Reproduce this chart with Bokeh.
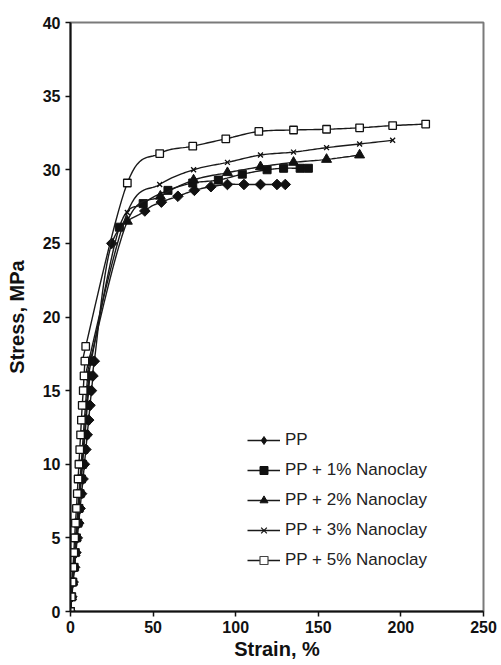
import numpy as np
from bokeh.plotting import figure
from bokeh.models import Legend, LegendItem, Range1d
from bokeh.embed import file_html
from bokeh.resources import INLINE

# ---------------- data ----------------
x_ticks = [0, 50, 100, 150, 200, 250]
y_ticks = [0, 5, 10, 15, 20, 25, 30, 35, 40]

pp_strain = [0, 0.8, 1.6, 2.5, 3.3, 4.1, 5.0, 5.8, 6.7, 7.6, 8.4, 9.3, 10.1, 11.0, 11.8, 12.7, 13.6, 14.4,
             25, 45, 55, 65, 75, 85, 95, 105, 115, 125, 130]
pp_stress = [0, 1, 2, 3, 4, 5, 6, 7, 8, 9, 10, 11, 12, 13, 14, 15, 16, 17,
             25.0, 27.2, 27.8, 28.2, 28.6, 28.85, 29.0, 29.0, 29.0, 29.0, 29.0]

nc1_strain = [0, 0.7, 1.4, 2.2, 2.9, 3.6, 4.4, 5.1, 5.8, 6.6, 7.3, 8.0, 8.8, 9.5, 10.2, 11.0, 11.7, 12.5,
              29.6, 44, 59, 74, 89.5, 104, 119, 129, 139, 144]
nc1_stress = [0, 1, 2, 3, 4, 5, 6, 7, 8, 9, 10, 11, 12, 13, 14, 15, 16, 17,
              26.1, 27.7, 28.6, 29.1, 29.3, 29.7, 30.0, 30.1, 30.1, 30.1]

nc2_strain = [0, 0.7, 1.4, 2.1, 2.8, 3.5, 4.2, 4.9, 5.6, 6.3, 7.0, 7.7, 8.4, 9.1, 9.8, 10.5, 11.2, 11.9,
              34.4, 54.4, 74.5, 95, 115, 135, 155, 175]
nc2_stress = [0, 1, 2, 3, 4, 5, 6, 7, 8, 9, 10, 11, 12, 13, 14, 15, 16, 17,
              26.5, 28.2, 29.3, 29.8, 30.2, 30.5, 30.7, 31.0]

nc3_strain = [0, 0.6, 1.3, 1.9, 2.6, 3.2, 3.9, 4.5, 5.2, 5.8, 6.5, 7.1, 7.8, 8.4, 9.1, 9.7, 10.4, 11.0,
              34.4, 54, 74.5, 95, 115, 135, 155, 175, 195]
nc3_stress = [0, 1, 2, 3, 4, 5, 6, 7, 8, 9, 10, 11, 12, 13, 14, 15, 16, 17,
              27.1, 29.0, 30.0, 30.5, 31.0, 31.2, 31.5, 31.75, 32.0]

nc5_strain = [0, 0.5, 1.0, 1.5, 2.0, 2.5, 3.0, 3.6, 4.1, 4.6, 5.1, 5.6, 6.1, 6.6, 7.1, 7.7, 8.2, 8.7, 9.2,
              34.4, 54, 74, 94, 114, 135, 155, 175, 195, 215]
nc5_stress = [0, 1, 2, 3, 4, 5, 6, 7, 8, 9, 10, 11, 12, 13, 14, 15, 16, 17, 18,
              29.1, 31.1, 31.6, 32.1, 32.6, 32.7, 32.75, 32.85, 33.0, 33.1]

labels = ["PP", "PP + 1% Nanoclay", "PP + 2% Nanoclay", "PP + 3% Nanoclay", "PP + 5% Nanoclay"]


def smooth(xs, ys, n=14):
    """Catmull-Rom curve through the data points (like a spreadsheet 'smoothed line')."""
    pts = np.column_stack([np.asarray(xs, float), np.asarray(ys, float)])
    out = []
    m = len(pts)
    for i in range(m - 1):
        p0 = pts[i - 1] if i > 0 else pts[i]
        p1 = pts[i]
        p2 = pts[i + 1]
        p3 = pts[i + 2] if i + 2 < m else pts[i + 1]
        for t in np.linspace(0, 1, n, endpoint=False):
            t2, t3 = t * t, t * t * t
            pt = 0.5 * ((2 * p1) + (-p0 + p2) * t + (2 * p0 - 5 * p1 + 4 * p2 - p3) * t2
                        + (-p0 + 3 * p1 - 3 * p2 + p3) * t3)
            out.append(pt)
    out.append(pts[-1])
    out = np.array(out)
    return out[:, 0], out[:, 1]


FONT = "Liberation Sans"
INK = "#111111"

p = figure(width=501, height=665, output_backend="svg", toolbar_location=None,
           x_range=Range1d(0, 250), y_range=Range1d(0, 40),
           min_border_left=70, min_border_top=22, min_border_right=18, min_border_bottom=54)
p.grid.visible = False
p.outline_line_color = "#7a7a7a"
p.outline_line_width = 2
p.background_fill_color = "white"
p.border_fill_color = "white"

for ax in (p.xaxis[0], p.yaxis[0]):
    ax.axis_line_color = INK
    ax.axis_line_width = 2
    ax.major_tick_line_color = INK
    ax.major_tick_line_width = 1.5
    ax.major_tick_out = 5
    ax.major_tick_in = 0
    ax.minor_tick_line_color = None
    ax.major_label_text_font = FONT
    ax.major_label_text_font_style = "bold"
    ax.major_label_text_font_size = "16px"
    ax.major_label_text_color = INK
    ax.axis_label_text_font = FONT
    ax.axis_label_text_font_style = "bold"
    ax.axis_label_text_font_size = "20px"
    ax.axis_label_text_color = INK

p.xaxis.ticker = x_ticks
p.yaxis.ticker = y_ticks
p.xaxis.axis_label = "Strain, %"
p.yaxis.axis_label = "Stress, MPa"
p.xaxis.major_label_standoff = 4
p.xaxis.axis_label_standoff = 2
p.yaxis.major_label_standoff = 5
p.yaxis.axis_label_standoff = 12

series = [
    (pp_strain, pp_stress, dict(marker="square", size=7.5, angle=np.pi / 4, fill_color=INK, line_color=INK),
     dict(marker="diamond", size=8, fill_color=INK, line_color=INK)),
    (nc1_strain, nc1_stress, dict(marker="square", size=8, fill_color=INK, line_color=INK),
     dict(marker="square", size=6, fill_color=INK, line_color=INK)),
    (nc2_strain, nc2_stress, dict(marker="triangle", size=10, fill_color=INK, line_color=INK),
     dict(marker="triangle", size=7, fill_color=INK, line_color=INK)),
    (nc3_strain, nc3_stress, dict(marker="x", size=7, line_color=INK, line_width=1.3),
     dict(marker="x", size=6, line_color=INK, line_width=1.2)),
    (nc5_strain, nc5_stress, dict(marker="square", size=7.5, fill_color="white", line_color=INK, line_width=1.3),
     dict(marker="square", size=6, fill_color="white", line_color="#444444", line_width=1.2)),
]

items = []
for (xs, ys, mk, lmk), lab in zip(series, labels):
    sx, sy = smooth(xs, ys)
    lr = p.line(sx, sy, line_color="#1a1a1a", line_width=1.4)
    p.scatter(xs, ys, **mk)
    # legend-only marker (smaller than the plotted markers), never drawn in the plot area
    dummy = p.scatter(x=[np.nan], y=[np.nan], **lmk)
    items.append(LegendItem(label=lab, renderers=[lr, dummy]))

legend = Legend(items=items, location=(177, 41), orientation="vertical",
                border_line_color=None, background_fill_alpha=0,
                padding=0, margin=0, spacing=10,
                glyph_width=33, glyph_height=20, label_height=20, label_standoff=5,
                label_text_font=FONT, label_text_font_size="17px", label_text_color="#222222")
p.add_layout(legend, "center")

open("out.html", "w").write(file_html(p, INLINE))
